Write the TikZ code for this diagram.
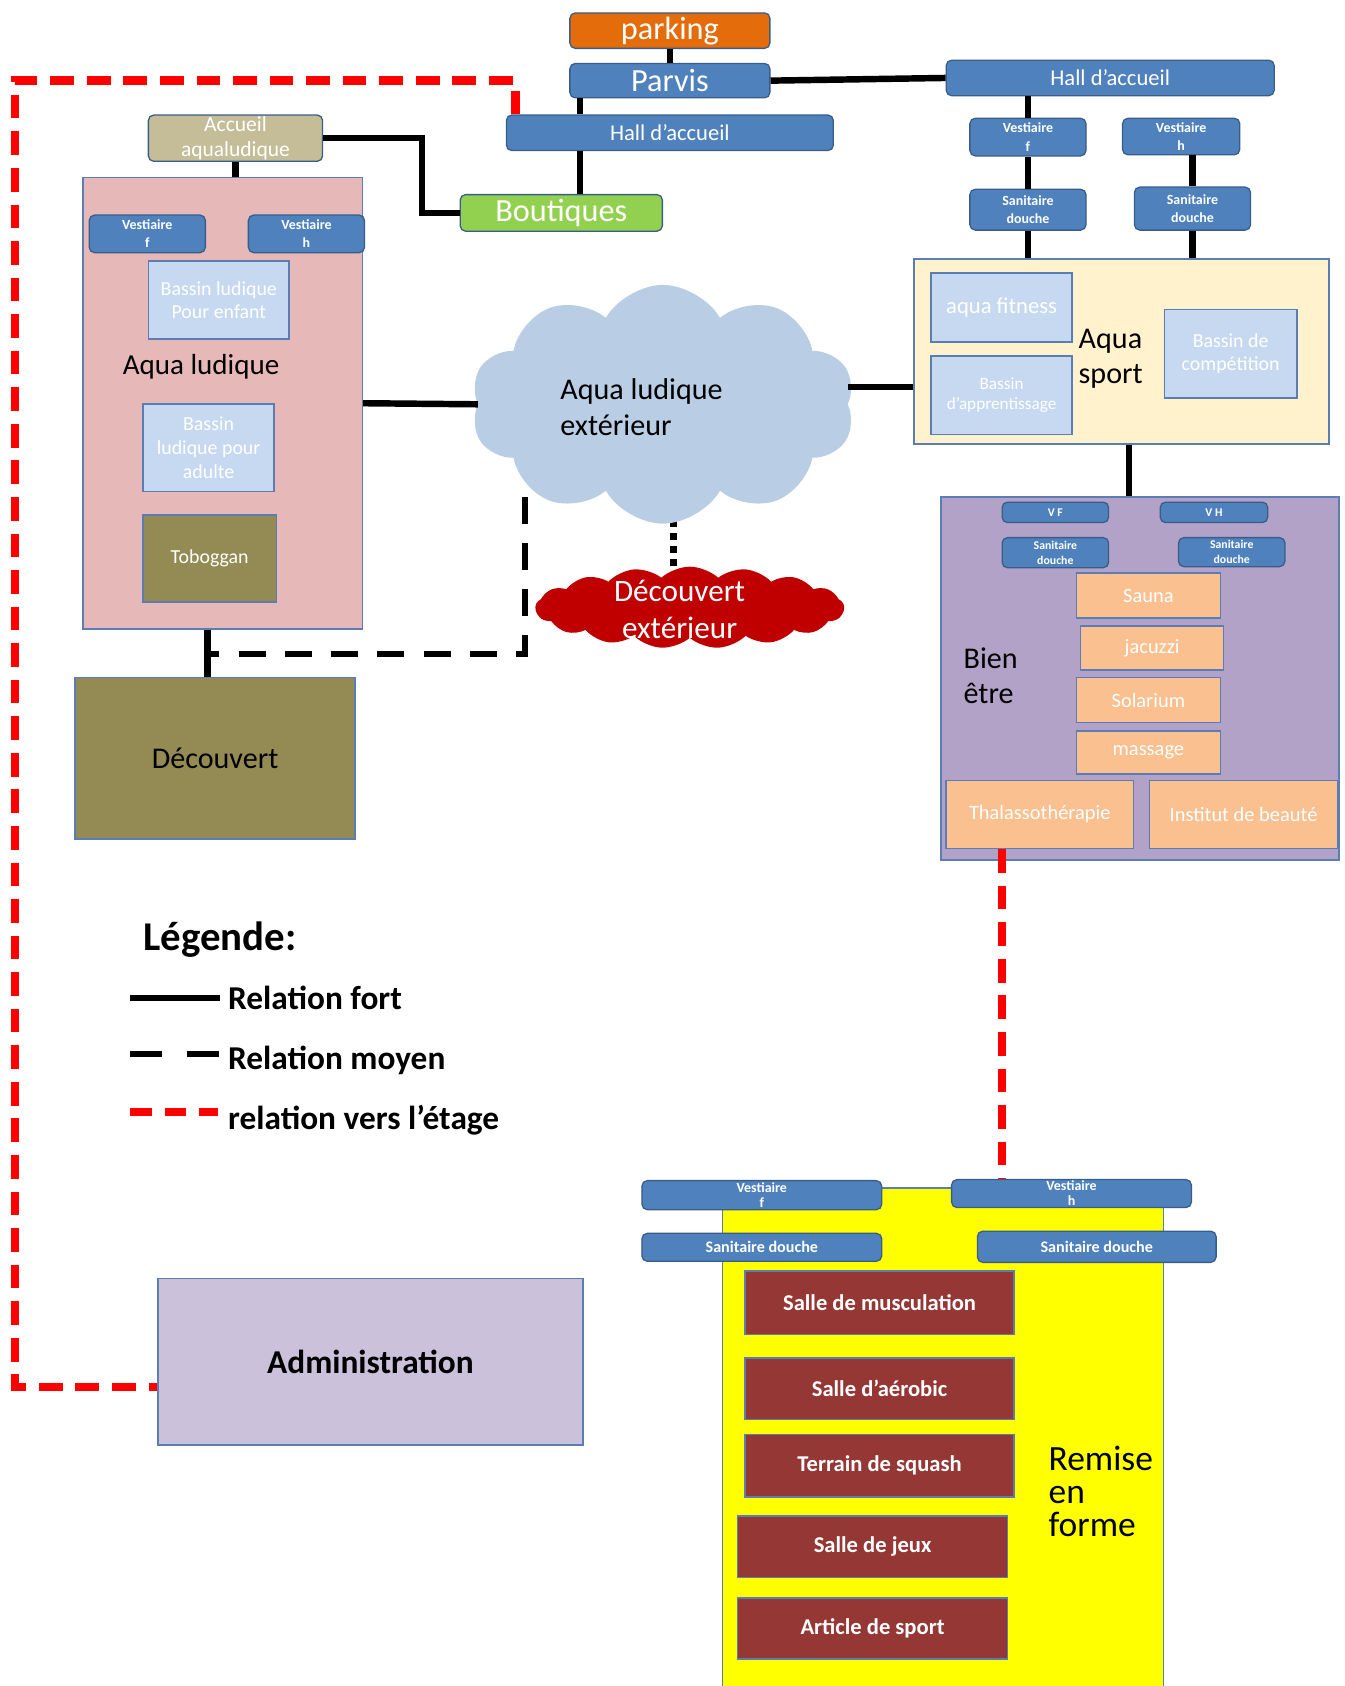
\documentclass[tikz,border=0pt]{standalone}
\usepackage{fontspec}
\setmainfont{Carlito}
\usepackage{tikz}
\usetikzlibrary{positioning,shapes.symbols,backgrounds,calc}
\definecolor{bluefill}{HTML}{4F81BD}
\definecolor{blueedge}{HTML}{385D8A}
\definecolor{roomedge}{HTML}{5B7DB5}
\definecolor{parkorange}{HTML}{E46C0A}
\definecolor{accueiltan}{HTML}{C4BD97}
\definecolor{boutgreen}{HTML}{92D050}
\definecolor{ludpink}{HTML}{E6B9B8}
\definecolor{poolblue}{HTML}{C6D9F1}
\definecolor{olivebox}{HTML}{948A54}
\definecolor{cloudblue}{HTML}{B9CDE5}
\definecolor{cloudred}{HTML}{C00000}
\definecolor{sportcream}{HTML}{FFF2CC}
\definecolor{bienmauve}{HTML}{B3A2C7}
\definecolor{soinorange}{HTML}{FAC090}
\definecolor{adminlilac}{HTML}{CCC1DA}
\definecolor{sallered}{HTML}{953735}
\definecolor{remiseyellow}{HTML}{FFFF00}
\newcommand\fs[2]{\fontsize{#1}{#2}\selectfont}
\tikzset{
  every node/.style={align=center,inner sep=0pt},
  wh/.style 2 args={minimum width=#1pt,minimum height=#2pt},
  bluebox/.style={draw=blueedge,fill=bluefill,line width=1.2pt,rounded corners=5pt,text=white},
  room/.style={draw=roomedge,line width=1.5pt},
  pool/.style={room,fill=poolblue,text=white},
  soin/.style={room,fill=soinorange,text=white,font=\fs{19}{22}},
  salle/.style={room,fill=sallered,text=white,font=\bfseries\fs{21}{24}},
  fort/.style={line width=6pt},
  moyen/.style={line width=6pt,dash pattern=on 25pt off 18pt},
  pointill/.style={line width=6pt,dash pattern=on 6pt off 6pt},
  etage/.style={draw=red,line width=8pt,dash pattern=on 22pt off 12pt},
}

\begin{document}
\begin{tikzpicture}[x=1pt,y=-1pt]
  \useasboundingbox (0,0) rectangle (1250,1568);

  % entree
  \node[bluebox,fill=parkorange,wh={186}{33},font=\fs{30}{34}] (parking) at (623,28.5) {parking};
  \node[bluebox,wh={186}{32},font=\fs{30}{34}] (parvis) at (623,75) {Parvis};
  \node[bluebox,wh={304}{33},font=\fs{21}{24}] (hallC) at (623,123.5) {Hall d’accueil};
  \node[bluebox,wh={305}{33},font=\fs{21}{24}] (hallR) at (1032.5,72.5) {Hall d’accueil};
  \node[bluebox,fill=accueiltan,wh={162}{43},font=\fs{20}{24}] (accueil) at (219,128.5) {Accueil\\aqualudique};
  \node[bluebox,fill=boutgreen,wh={188}{34},font=\fs{30}{34}] (boutiques) at (522,198) {Boutiques};

  % aqua ludique
  \node[room,fill=ludpink,wh={260}{420}] (ludique) at (207,375) {};
  \node[bluebox,wh={108}{35},font=\bfseries\fs{13}{17}] (vfL) at (137,217.5) {Vestiaire\\f};
  \node[bluebox,wh={108}{35},font=\bfseries\fs{13}{17}] (vhL) at (285,217.5) {Vestiaire\\h};
  \node[pool,wh={131}{72},font=\fs{18.5}{22}] (enfant) at (203.5,279) {Bassin ludique\\Pour enfant};
  \node[font=\fs{27}{32}] (ludlbl) at (187,341) {Aqua ludique};
  \node[pool,wh={122}{81},font=\fs{18.5}{22}] (adulte) at (194,416.5) {Bassin\\ludique pour\\adulte};
  \node[room,fill=olivebox,text=white,wh={124}{81},font=\fs{18.5}{22}] (toboggan) at (195,519.5) {Toboggan};
  \node[room,fill=olivebox,wh={260}{150},font=\fs{28}{32}] (decouvert) at (200,705) {Découvert};

  % exterieur
  \node[cloud,cloud puffs=10,cloud puff arc=120,aspect=1.6,fill=cloudblue,wh={357}{222}] (cloud) at (616.5,376) {};
  \node[anchor=west,align=left,font=\fs{28}{33}] (cloudlbl) at (521,378.5) {Aqua ludique\\extérieur};
  \node[cloud,cloud puffs=17,cloud puff arc=85,aspect=3.8,fill=cloudred,wh={287}{76}] (decext) at (641.5,565) {};
  \node[text=white,font=\fs{29}{34}] (decextlbl) at (632,567) {Découvert\\extérieur};

  % aqua sport
  \node[bluebox,wh={108}{35},font=\bfseries\fs{13}{17}] (vfR) at (956,127.5) {Vestiaire\\f};
  \node[bluebox,wh={109}{34},font=\bfseries\fs{13}{17}] (vhR) at (1098.5,127) {Vestiaire\\h};
  \node[bluebox,wh={108}{38},font=\bfseries\fs{13}{17}] (sdR1) at (956,195) {Sanitaire\\douche};
  \node[bluebox,wh={108}{40},font=\bfseries\fs{13}{17}] (sdR2) at (1109,194) {Sanitaire\\douche};
  \node[room,fill=sportcream,wh={386}{172}] (sport) at (1043,327) {};
  \node[pool,wh={131}{64},font=\fs{21}{24}] (fitness) at (931.5,286) {aqua fitness};
  \node[pool,wh={131}{73},font=\fs{16}{19}] (apprent) at (931.5,367.5) {Bassin\\d’apprentissage};
  \node[pool,wh={123}{82},font=\fs{18.5}{22}] (compet) at (1144.5,329) {Bassin de\\compétition};
  \node[anchor=west,align=left,font=\fs{28}{33}] (sportlbl) at (1003,333.5) {Aqua\\sport};

  % bien etre
  \node[room,fill=bienmauve,wh={370}{338}] (bien) at (1060,631) {};
  \node[bluebox,wh={99}{19},font=\bfseries\fs{11}{13}] (vfB) at (981.5,476.5) {V F};
  \node[bluebox,wh={100}{19},font=\bfseries\fs{11}{13}] (vhB) at (1129,476.5) {V H};
  \node[bluebox,wh={99}{28},font=\bfseries\fs{11}{14}] (sdB1) at (981.5,514) {Sanitaire\\douche};
  \node[bluebox,wh={99}{27},font=\bfseries\fs{11}{14}] (sdB2) at (1145.5,513.5) {Sanitaire\\douche};
  \node[soin,wh={134}{42}] (sauna) at (1068,554) {Sauna};
  \node[soin,wh={133}{41}] (jacuzzi) at (1071.5,602.5) {jacuzzi};
  \node[soin,wh={134}{42}] (solarium) at (1068,651) {Solarium};
  \node[soin,wh={134}{40}] (massage) at (1068,700) {massage};
  \node[soin,wh={174}{63}] (thalasso) at (967,757.5) {Thalassothérapie};
  \node[soin,wh={175}{63}] (institut) at (1156.5,757.5) {Institut de beauté};
  \node[anchor=west,align=left,font=\fs{28}{33}] (bienlbl) at (896,628.5) {Bien\\être};

  % legende
  \node[anchor=west,font=\bfseries\fs{38}{44}] (legende) at (133,874) {Légende:};
  \node[anchor=west,font=\bfseries\fs{31}{36}] (lfort) at (212,928) {Relation fort};
  \node[anchor=west,font=\bfseries\fs{31}{36}] (lmoyen) at (212,986) {Relation moyen};
  \node[anchor=west,font=\bfseries\fs{31}{36}] (letage) at (212,1042) {relation vers l’étage};
  \draw[fort] ([xshift=-91pt]lfort.west) -- ([xshift=-7pt]lfort.west);
  \draw[fort,dash pattern=on 30pt off 23pt] ([xshift=-91pt,yshift=6pt]lmoyen.west) -- ([xshift=-7pt,yshift=6pt]lmoyen.west);
  \draw[etage,dash pattern=on 20pt off 12pt] ([xshift=-91pt,yshift=8pt]letage.west) -- ([xshift=-9pt,yshift=8pt]letage.west);

  % administration
  \node[room,fill=adminlilac,wh={395}{155},font=\bfseries\fs{31}{36}] (admin) at (344.5,1266.5) {Administration};

  % remise en forme
  \node[room,fill=remiseyellow,wh={410}{475}] (remise) at (877,1342.5) {};
  \node[bluebox,wh={223}{27},font=\bfseries\fs{13}{14}] (vfF) at (708.5,1111.5) {Vestiaire\\f};
  \node[bluebox,wh={223}{26},font=\bfseries\fs{13}{14}] (vhF) at (996.5,1110) {Vestiaire\\h};
  \node[bluebox,wh={223}{26},font=\bfseries\fs{15}{18}] (sdF1) at (708.5,1160) {Sanitaire douche};
  \node[bluebox,wh={222}{29},font=\bfseries\fs{15}{18}] (sdF2) at (1020,1159.5) {Sanitaire douche};
  \node[salle,wh={250}{59}] (muscu) at (818,1211.5) {Salle de musculation};
  \node[salle,wh={250}{57}] (aerobic) at (818,1291.5) {Salle d’aérobic};
  \node[salle,wh={250}{58}] (squash) at (818,1363) {Terrain de squash};
  \node[salle,wh={251}{57}] (jeux) at (811.5,1438.5) {Salle de jeux};
  \node[salle,wh={251}{57}] (article) at (811.5,1514.5) {Article de sport};
  \node[anchor=west,align=left,font=\fs{33}{31}] (remiselbl) at (975,1387) {Remise\\en\\forme};

  % relations fortes
  \draw[fort] (parking.south) -- (parvis.north);
  \draw[fort] ([xshift=10pt]parvis.south west) -- ([xshift=10pt]parvis.south west |- hallC.north);
  \draw[fort] ([xshift=69pt]hallC.south west) -- ([xshift=69pt]hallC.south west |- boutiques.north);
  \draw[fort] (parvis.east) -- (hallR.west);
  \draw[fort] (accueil.east) -- ++(92,0) |- (boutiques.west);
  \draw[fort] (accueil.south) -- (accueil.south |- ludique.north);
  \draw[fort] (ludique.east) -- (cloud.west);
  \draw[fort] ([yshift=16pt]cloud.east) -- ([yshift=16pt]cloud.east -| sport.west);
  \draw[fort] ([xshift=7pt]sport.south) -- ([xshift=7pt]sport.south |- bien.north);
  \draw[fort] (vfR.north |- hallR.south) -- (vfR.north);
  \draw[fort] (vfR.south) -- (sdR1.north);
  \draw[fort] (sdR2.north |- vhR.south) -- (sdR2.north);
  \draw[fort] (sdR1.south) -- (sdR1.south |- sport.north);
  \draw[fort] (sdR2.south) -- (sdR2.south |- sport.north);
  \draw[fort] ([xshift=-14pt]ludique.south) -- ([xshift=-14pt]ludique.south |- decouvert.north);

  % relations moyennes
  \coordinate (moyenY) at (0,608);
  \begin{scope}[on background layer]
    \draw[moyen] ([xshift=-128.5pt]cloud.center) |- ([xshift=-14pt]ludique.south |- moyenY);
    \draw[pointill] ([xshift=10pt]cloud.center) -- ([xshift=10pt]cloud.center |- decext.north);
  \end{scope}

  % vers l'etage
  \coordinate (etageNW) at (14,75);
  \draw[etage] ([xshift=9pt]hallC.north west) |- (etageNW) |- ([yshift=-23.5pt]admin.west);
  \draw[etage] ([xshift=-35pt]thalasso.south) -- ([xshift=-35pt]thalasso.south |- vhF.north);
\end{tikzpicture}
\end{document}
